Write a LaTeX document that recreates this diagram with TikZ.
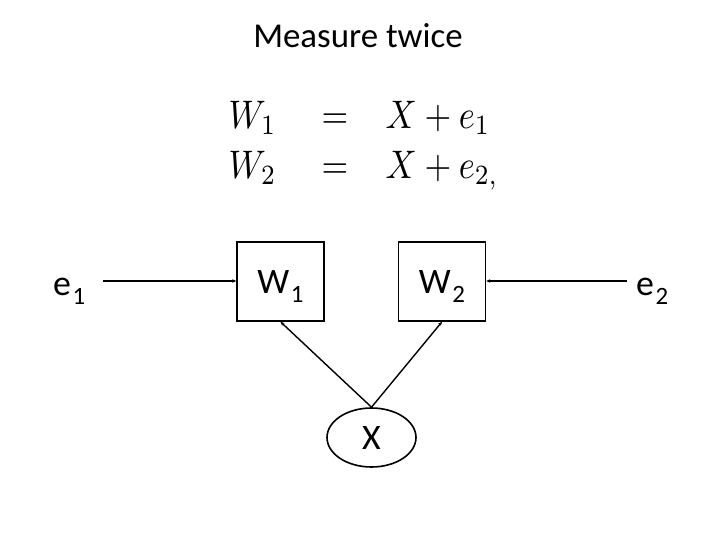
\documentclass[tikz,border=0pt]{standalone}
\usepackage{fontspec}
\setmainfont{Carlito}
\usetikzlibrary{shapes.geometric,arrows.meta}
\newcommand{\lbl}[2]{#1\kern1.5bp\raisebox{-9bp}{\fontsize{25}{25}\selectfont #2}}
\begin{document}
\begin{tikzpicture}[x=1bp,y=-1bp,
  mathtxt/.style={anchor=base west,inner sep=0pt,xscale=3.45,yscale=4.0},
  lbltxt/.style={inner sep=0pt,font=\fontsize{36}{40}\selectfont},
  varbox/.style={draw,line width=1.6bp,minimum width=87bp,minimum height=79bp,inner sep=0pt,
    text height=23bp,text depth=0pt,font=\fontsize{36}{40}\selectfont},
  latent/.style={draw,ellipse,line width=1.6bp,minimum width=89bp,minimum height=59bp,inner sep=0pt,
    text height=23bp,text depth=0pt,font=\fontsize{36}{40}\selectfont},
  conn/.style={line width=1.4bp,-{Stealth[length=4bp,width=3.5bp]}}]
\useasboundingbox[fill=white] (0,0) rectangle (720,540);
% title
\node[anchor=base,inner sep=0pt,font=\fontsize{35}{40}\selectfont] (title) at (358,48) {Measure twice};
% equations
\node[mathtxt] (w1eq) at (228,129) {$W_1$};
\node[mathtxt] (eq1) at (321,129) {$=$};
\node[mathtxt] (r1) at (385,129) {$X+e_1$};
\node[mathtxt] (w2eq) at (228,179) {$W_2$};
\node[mathtxt] (eq2) at (321,179) {$=$};
\node[mathtxt] (r2) at (385,179) {$X+e_{2,}$};
% boxes
\node[varbox] (W1) at (280.5,281.5) {\lbl{W}{1}};
\node[varbox] (W2) at (442,281.5) {\lbl{W}{2}};
\node[latent] (X) at (371.5,437.5) {X};
% error labels
\node[lbltxt,anchor=base west] (e1) at (53,295) {\lbl{e}{1}};
\node[lbltxt,anchor=base west] (e2) at (636,295) {\lbl{e}{2}};
\coordinate (e1end) at (103,281);
\coordinate (e2end) at (627,281);
% connectors
\draw[conn] (e1end) -- (W1.west |- e1end);
\draw[conn] (e2end) -- (W2.east |- e2end);
\draw[conn] (X.north) -- (W1.south);
\draw[conn] (X.north) -- (W2.south);
\end{tikzpicture}
\end{document}
